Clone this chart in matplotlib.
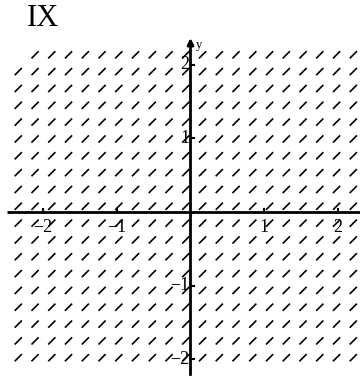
import numpy as np
import matplotlib
matplotlib.use("Agg")
import matplotlib.pyplot as plt
from matplotlib.collections import LineCollection

# ---- data ----
slope = 1.0  # dy/dx is constant over the whole field
x_centers = [-2.337, -2.109, -1.882, -1.655, -1.427, -1.200, -0.973, -0.746,
             -0.518, -0.291, -0.064, 0.164, 0.391, 0.618, 0.845, 1.073,
             1.300, 1.527, 1.754, 1.982, 2.209]
y_centers = [2.133, 1.905, 1.676, 1.448, 1.220, 0.991, 0.763, 0.534, 0.306,
             0.078, -0.151, -0.379, -0.607, -0.836, -1.064, -1.292, -1.521,
             -1.749, -1.977]
x_ticks = [-2, -1, 1, 2]
x_tick_labels = ["\u22122", "\u22121", "1", "2"]
y_ticks = [2, 1, -1, -2]
y_tick_labels = ["2", "1", "\u22121", "\u22122"]
title = "IX"

# ---- figure ----
W, H, DPI = 360, 376, 100
fig = plt.figure(figsize=(W / DPI, H / DPI), dpi=DPI)
ax = fig.add_axes([0, 0, 1, 1])
ox, oy, s = 190.5, 212.0, 73.7  # pixel origin and pixels per unit
ax.set_xlim(-ox / s, (W - ox) / s)
ax.set_ylim((oy - H) / s, oy / s)
ax.axis("off")

serif = ["Liberation Serif", "DejaVu Serif"]

# slope segments
half = 0.069
dx = half / np.sqrt(1 + slope ** 2)
dy = slope * dx
segs = []
for j, yc in enumerate(y_centers):
    for i, xc in enumerate(x_centers):
        if j == 0 and i == 0:
            continue
        segs.append([(xc - dx, yc - dy), (xc + dx, yc + dy)])
ax.add_collection(LineCollection(segs, colors="black", linewidths=1.2,
                                 capstyle="butt", zorder=2))

# axes lines
xl = ax.get_xlim()
ax.plot([(7 - ox) / s, xl[1]], [0, 0], color="black", lw=2.0, zorder=3,
        solid_capstyle="butt")
ax.annotate("", xy=(0, (oy - 38) / s), xytext=(0, (oy - 375) / s),
            arrowprops=dict(arrowstyle="-|>", lw=2.0, color="black",
                            mutation_scale=9, shrinkA=0, shrinkB=0),
            zorder=3)

# ticks
t = 3.0 / s
for xv in x_ticks:
    ax.plot([xv, xv], [0, t], color="black", lw=1.5, zorder=3)
for yv in y_ticks:
    ax.plot([0, t], [yv, yv], color="black", lw=1.5, zorder=3)

# tick labels
for xv, lab in zip(x_ticks, x_tick_labels):
    ax.text(xv, -15.0 / s, lab, ha="center", va="center", fontsize=13,
            family=serif, zorder=4)
for yv, lab in zip(y_ticks, y_tick_labels):
    ax.text(-1.0 / s, yv, lab, ha="right", va="center", fontsize=13,
            family=serif, zorder=4)

ax.text(5.0 / s, (oy - 45) / s, "y", ha="left", va="center", fontsize=9,
        family=serif)
fig.text(27 / W, 1 - 19 / H, title, ha="left", va="center", fontsize=22,
         family=serif)

fig.savefig("out.png", dpi=DPI)
